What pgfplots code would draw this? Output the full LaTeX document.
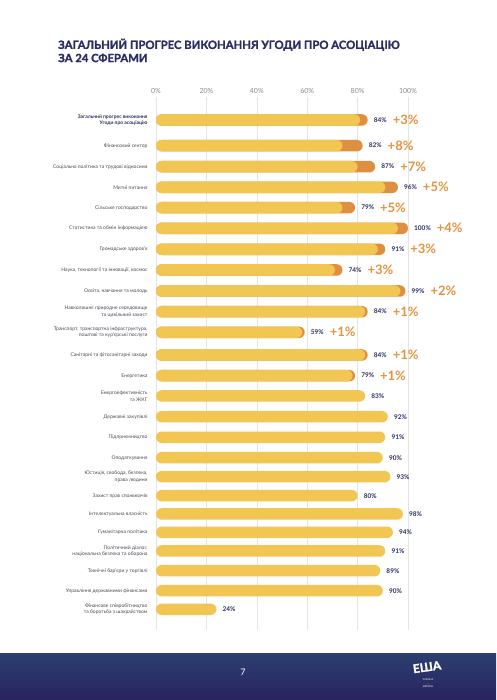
\documentclass[border=0pt]{standalone}
\usepackage{pgfplots}
\pgfplotsset{compat=1.18}
\usepackage{fontspec}
\setmainfont{Lato}
\newfontfamily\titlefont{Lato}[BoldFeatures={FakeBold=1.5}]
\definecolor{barY}{HTML}{F1C653}
\definecolor{barO}{HTML}{DE8F3F}
\definecolor{navy}{HTML}{2B2E62}
\definecolor{incO}{HTML}{E3933F}
\definecolor{labc}{HTML}{4A4A55}
\definecolor{tickc}{HTML}{8A8A8A}
\definecolor{gridc}{HTML}{E4E4E4}
\definecolor{footT}{HTML}{2C3E70}
\definecolor{footB}{HTML}{2A2360}
\NewDocumentCommand\vl{m}{\raisebox{2.5pt}{\textcolor{navy}{\fontsize{6.5}{7}\selectfont\bfseries #1\%}}}
\NewDocumentCommand\vo{m}{\textcolor{navy}{\fontsize{6.5}{7}\selectfont\bfseries #1\%}}
\NewDocumentCommand\inc{m}{\hspace{6pt}\textcolor{incO}{\fontsize{13}{13}\selectfont\bfseries +#1\%}}
\NewDocumentCommand\lb{m}{\textcolor{navy}{\bfseries #1}}
\begin{document}
\begin{tikzpicture}
\fill[white] (0pt,0pt) rectangle (496pt,700pt);
\node[anchor=north west, align=left, text=navy, font=\titlefont\fontsize{11.3}{13.2}\selectfont\bfseries, inner sep=0pt] at (58pt,661.5pt) {ЗАГАЛЬНИЙ ПРОГРЕС ВИКОНАННЯ УГОДИ ПРО АСОЦІАЦІЮ\\ЗА 24 СФЕРАМИ};
\shade[top color=footT, bottom color=footB] (0pt,0pt) rectangle (496pt,46pt);
\node[text=white, font=\fontsize{9}{10}\selectfont] at (243pt,28pt) {7};
\node[text=white, font=\titlefont\fontsize{12}{12}\selectfont\bfseries, inner sep=0pt, rotate=8] at (427pt,33pt) {EШA};
\node[text=white, font=\fontsize{2.5}{3.5}\selectfont, align=center, inner sep=0pt] at (428pt,17pt) {УКРАЇНА\\—\\ЄВРОПА};
\begin{axis}[
 at={(156pt,70pt)}, anchor=south west, scale only axis,
 width=252pt, height=533pt,
 xmin=0, xmax=100, ymin=-630, ymax=-97,
 axis line style={draw=none}, major tick length=0pt, tick style={draw=none},
 xtick={0,20,40,60,80,100},
 xticklabels={0\%,20\%,40\%,60\%,80\%,100\%},
 xticklabel pos=upper,
 xmajorgrids, grid style={draw=gridc, line width=0.6pt},
 xticklabel style={font=\fontsize{7}{8}\selectfont, text=tickc},
 ytick={-120,-145.7,-166.7,-187.3,-207.7,-228.3,-249.3,-270,-291,-311.7,-332.3,-355,-375.7,-396,-416.7,-437.3,-457.7,-476.7,-495.7,-514,-532.3,-551,-570.7,-590.7,-609.3},
 yticklabels={
  {\lb{Загальний прогрес виконання}\\\lb{Угоди про асоціацію}},
  {Фінансовий сектор},
  {Соціальна політика та трудові відносини},
  {Митні питання},
  {Сільське господарство},
  {Статистика та обмін інформацією},
  {Громадське здоров'я},
  {Наука, технології та інновації, космос},
  {Освіта, навчання та молодь},
  {Навколишнє природне середовище\\та цивільний захист},
  {Транспорт, транспортна інфраструктура,\\поштові та кур'єрські послуги},
  {Санітарні та фітосанітарні заходи},
  {Енергетика},
  {Енергоефективність\\та ЖКГ},
  {Державні закупівлі},
  {Підприємництво},
  {Оподаткування},
  {Юстиція, свобода, безпека,\\права людини},
  {Захист прав споживачів},
  {Інтелектуальна власність},
  {Гуманітарна політика},
  {Політичний діалог,\\національна безпека та оборона},
  {Технічні бар'єри у торгівлі},
  {Управління державними фінансами},
  {Фінансове співробітництво\\та боротьба з шахрайством}},
 yticklabel style={font=\fontsize{5}{6.5}\selectfont, text=labc, align=right, xshift=-5pt},
 clip=false,
]
% orange: current totals (rows with progress)
\addplot[xbar, bar width=11.5pt, bar shift=0pt, rounded corners=5.75pt, draw=none, fill=barO] coordinates {
 (84,-120) (82,-145.7) (87,-166.7) (96,-187.3) (79,-207.7) (100,-228.3) (91,-249.3)
 (74,-270) (99,-291) (84,-311.7) (59,-332.3) (84,-355) (79,-375.7)};
% yellow: previous level
\addplot[xbar, bar width=11.5pt, bar shift=0pt, rounded corners=5.75pt, draw=none, fill=barY] coordinates {
 (81,-120) (74,-145.7) (80,-166.7) (91,-187.3) (74,-207.7) (96,-228.3) (88,-249.3)
 (71,-270) (97,-291) (83,-311.7) (58,-332.3) (83,-355) (78,-375.7)
 (83,-396) (92,-416.7) (91,-437.3) (90,-457.7) (93,-476.7) (80,-495.7) (98,-514)
 (94,-532.3) (91,-551) (89,-570.7) (90,-590.7) (24,-609.3)};
% labels
\addplot[xbar, bar width=11.5pt, bar shift=0pt, draw=none, fill=none,
 nodes near coords, point meta=explicit symbolic,
 every node near coord/.append style={anchor=west, xshift=6pt, inner sep=0pt}] coordinates {
 (84,-120) [\vl{84}\inc{3}]
 (82,-145.7) [\vl{82}\inc{8}]
 (87,-166.7) [\vl{87}\inc{7}]
 (96,-187.3) [\vl{96}\inc{5}]
 (79,-207.7) [\vl{79}\inc{5}]
 (100,-228.3) [\vl{100}\inc{4}]
 (91,-249.3) [\vl{91}\inc{3}]
 (74,-270) [\vl{74}\inc{3}]
 (99,-291) [\vl{99}\inc{2}]
 (84,-311.7) [\vl{84}\inc{1}]
 (59,-332.3) [\vl{59}\inc{1}]
 (84,-355) [\vl{84}\inc{1}]
 (79,-375.7) [\vl{79}\inc{1}]
 (83,-396) [\vo{83}]
 (92,-416.7) [\vo{92}]
 (91,-437.3) [\vo{91}]
 (90,-457.7) [\vo{90}]
 (93,-476.7) [\vo{93}]
 (80,-495.7) [\vo{80}]
 (98,-514) [\vo{98}]
 (94,-532.3) [\vo{94}]
 (91,-551) [\vo{91}]
 (89,-570.7) [\vo{89}]
 (90,-590.7) [\vo{90}]
 (24,-609.3) [\vo{24}]};
\end{axis}
\end{tikzpicture}
\end{document}
